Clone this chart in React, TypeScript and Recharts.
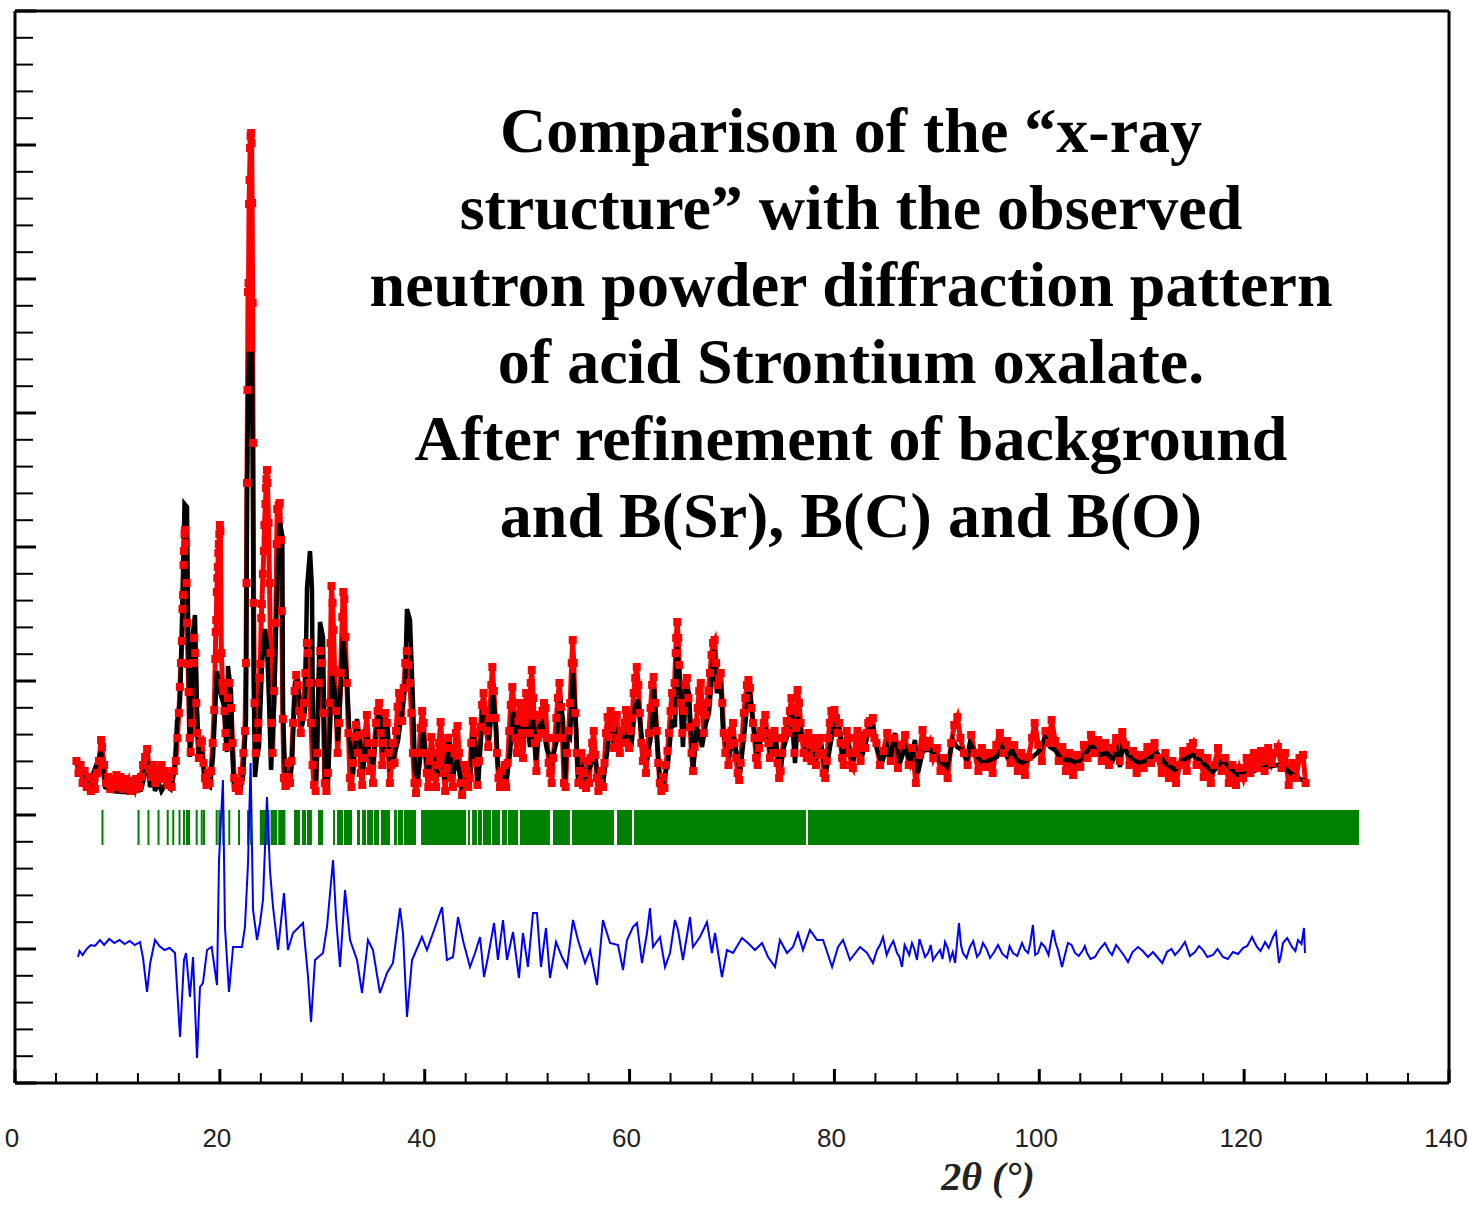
import { ComposedChart, Line, XAxis, YAxis, ReferenceArea, ReferenceLine } from 'recharts'

// intensities are in plot units (0..1072), 2theta in degrees
const xTicks = [0, 4, 8, 12, 16, 20, 24, 28, 32, 36, 40, 44, 48, 52, 56, 60, 64, 68, 72, 76, 80, 84, 88, 92, 96, 100, 104, 108, 112, 116, 120, 124, 128, 132, 136, 140]
const yTicks = [0, 26.8, 53.6, 80.4, 107.2, 134, 160.8, 187.6, 214.4, 241.2, 268, 294.8, 321.6, 348.4, 375.2, 402, 428.8, 455.6, 482.4, 509.2, 536, 562.8, 589.6, 616.4, 643.2, 670, 696.8, 723.6, 750.4, 777.2, 804, 830.8, 857.6, 884.4, 911.2, 938, 964.8, 991.6, 1018.4, 1045.2, 1072]

const titleLines = [
  'Comparison of the \u201cx-ray',
  'structure\u201d with the observed',
  'neutron powder diffraction pattern',
  'of acid Strontium oxalate.',
  'After refinement of background',
  'and B(Sr), B(C) and B(O)',
]

// observed (red squares)
const observed: [number, number][] = [
  [6.0, 322], [6.2, 310], [6.4, 318], [6.6, 300], [6.8, 312], [7.0, 296], [7.2, 306], [7.4, 292], [7.6, 304], [7.8, 294],
  [8.0, 310], [8.2, 322], [8.4, 343], [8.5, 336], [8.7, 318], [8.9, 300], [9.1, 306], [9.3, 294], [9.5, 304], [9.7, 296],
  [9.9, 308], [10.1, 298], [10.3, 306], [10.5, 294], [10.7, 304], [10.9, 296], [11.1, 302], [11.3, 292], [11.5, 300], [11.7, 294],
  [11.9, 304], [12.1, 296], [12.3, 306], [12.5, 318], [12.7, 326], [12.9, 334], [13.1, 314], [13.3, 306], [13.5, 318], [13.7, 300],
  [13.9, 314], [14.1, 304], [14.3, 318], [14.5, 306], [14.7, 312], [14.9, 298], [15.1, 306], [15.3, 296], [15.5, 312],
  [15.7, 322], [15.85, 345], [16.0, 370], [16.1, 396], [16.2, 420], [16.3, 442], [16.35, 474], [16.4, 488], [16.45, 518], [16.5, 532],
  [16.55, 549], [16.6, 553], [16.7, 540], [16.75, 500], [16.8, 460], [16.9, 419], [16.95, 391], [17.05, 345], [17.15, 331], [17.3, 360],
  [17.4, 420], [17.5, 445], [17.6, 430], [17.7, 380], [17.8, 350], [17.95, 325], [18.1, 340], [18.25, 342], [18.4, 320], [18.55, 305],
  [18.7, 298], [18.85, 310], [19.0, 300], [19.15, 312], [19.3, 340], [19.45, 373], [19.55, 424], [19.6, 451], [19.65, 463], [19.7, 491],
  [19.75, 505], [19.8, 516], [19.85, 530], [19.9, 539], [19.95, 549], [20.0, 558], [20.05, 552], [20.15, 430], [20.25, 400], [20.35, 392],
  [20.45, 372], [20.55, 350], [20.65, 336], [20.8, 385], [20.95, 400], [21.1, 375], [21.25, 340], [21.4, 305], [21.55, 295], [21.7, 300],
  [21.85, 292], [22.0, 302], [22.15, 312], [22.3, 330], [22.45, 352], [22.55, 420], [22.6, 500], [22.65, 600], [22.7, 693], [22.75, 791],
  [22.8, 800], [22.85, 879], [22.9, 903], [22.95, 935], [23.0, 947], [23.05, 950], [23.1, 940], [23.15, 880], [23.2, 780], [23.25, 640],
  [23.3, 480], [23.38, 380], [23.5, 330], [23.6, 345], [23.75, 360], [23.85, 405], [23.95, 419], [24.05, 465], [24.1, 479], [24.2, 509],
  [24.3, 532], [24.35, 558], [24.45, 579], [24.5, 595], [24.55, 604], [24.6, 613], [24.65, 600], [24.75, 560], [24.85, 500], [24.95, 430],
  [25.05, 360], [25.15, 330], [25.3, 392], [25.45, 460], [25.55, 539], [25.6, 574], [25.75, 578], [25.85, 580], [25.95, 543], [26.05, 472],
  [26.15, 364], [26.25, 305], [26.4, 297], [26.55, 306], [26.7, 320],
  [26.85, 300], [27.0, 322], [27.15, 360], [27.3, 392], [27.45, 408], [27.6, 398], [27.75, 372], [27.9, 350], [28.05, 366], [28.2, 380],
  [28.35, 410], [28.5, 440], [28.6, 430], [28.75, 400], [28.9, 360], [29.05, 318], [29.2, 298], [29.35, 292], [29.5, 330], [29.65, 400],
  [29.8, 432], [29.95, 420], [30.1, 370], [30.25, 300], [30.4, 292], [30.55, 310], [30.7, 380], [30.8, 440], [30.9, 497], [31.0, 480],
  [31.1, 453], [31.2, 413], [31.35, 372], [31.5, 330], [31.65, 360], [31.8, 410], [31.95, 466], [32.05, 491], [32.15, 484], [32.25, 446],
  [32.4, 400], [32.55, 350], [32.7, 305], [32.85, 296], [33.0, 320], [33.15, 346], [33.3, 358], [33.45, 330], [33.6, 348], [33.75, 310],
  [33.9, 298], [34.05, 325], [34.2, 350], [34.35, 368], [34.5, 340], [34.65, 312], [34.8, 330], [34.95, 300], [35.1, 340], [35.25, 360],
  [35.4, 372], [35.55, 380], [35.7, 350], [35.85, 318], [36.0, 340], [36.15, 370], [36.3, 360], [36.45, 330], [36.6, 300], [36.75, 318],
  [36.9, 340], [37.05, 320], [37.2, 352], [37.35, 376], [37.5, 390], [37.65, 385], [37.8, 362], [37.95, 395], [38.1, 420], [38.25, 432],
  [38.4, 418], [38.55, 400], [38.7, 370], [38.85, 330], [39.0, 300], [39.15, 290], [39.3, 300], [39.45, 330], [39.6, 355], [39.75, 372],
  [39.9, 360], [40.05, 330], [40.2, 310], [40.35, 296], [40.5, 322], [40.65, 346], [40.8, 330], [40.95, 306], [41.1, 296], [41.25, 318],
  [41.4, 340], [41.55, 361], [41.7, 340], [41.85, 310], [42.0, 292], [42.15, 315], [42.3, 345], [42.45, 335], [42.6, 305], [42.75, 296],
  [42.9, 330], [43.05, 350], [43.2, 357], [43.35, 330], [43.5, 300], [43.65, 288], [43.8, 300], [43.95, 318], [44.1, 312], [44.25, 296],
  [44.4, 305], [44.55, 340], [44.7, 362], [44.85, 350], [45.0, 320],
  [45.15, 298], [45.3, 322], [45.45, 356], [45.6, 378], [45.75, 390], [45.9, 372], [46.05, 352], [46.2, 336], [46.35, 365], [46.5, 398],
  [46.6, 416], [46.75, 392], [46.9, 365], [47.05, 330], [47.2, 305], [47.35, 296], [47.5, 312], [47.65, 300], [47.8, 318], [47.95, 296],
  [48.1, 320], [48.25, 352], [48.4, 378], [48.55, 396], [48.7, 380], [48.85, 345], [49.0, 330], [49.15, 362], [49.3, 380], [49.45, 350],
  [49.6, 325], [49.75, 360], [49.9, 390], [50.05, 372], [50.2, 350], [50.35, 400], [50.45, 413], [50.6, 385], [50.75, 340], [50.9, 312],
  [51.05, 345], [51.2, 368], [51.35, 350], [51.5, 372], [51.65, 380], [51.8, 375], [51.95, 345], [52.1, 320], [52.25, 310], [52.4, 300],
  [52.55, 325], [52.7, 345], [52.85, 365], [53.0, 385], [53.15, 400], [53.3, 376], [53.45, 345], [53.6, 300], [53.75, 296], [53.9, 330],
  [54.05, 352], [54.2, 380], [54.35, 420], [54.45, 443], [54.55, 420], [54.7, 370], [54.85, 330], [55.0, 300], [55.15, 312], [55.3, 330],
  [55.45, 298], [55.6, 310], [55.75, 295], [55.9, 322], [56.05, 300], [56.2, 325], [56.35, 340], [56.5, 352], [56.65, 328], [56.8, 305],
  [56.95, 292], [57.1, 300], [57.25, 312], [57.4, 296], [57.55, 320], [57.7, 350], [57.85, 366], [58.0, 346], [58.15, 372], [58.3, 355],
  [58.45, 335], [58.6, 360], [58.75, 368], [58.9, 345], [59.05, 330], [59.2, 352], [59.35, 340], [59.5, 360], [59.65, 373], [59.8, 358],
  [59.95, 335], [60.1, 352], [60.25, 365], [60.4, 390], [60.55, 405], [60.7, 416], [60.85, 398], [61.0, 370], [61.15, 340], [61.3, 322],
  [61.45, 335], [61.6, 310], [61.75, 330], [61.9, 350], [62.05, 375], [62.2, 398], [62.35, 406], [62.5, 380], [62.65, 352], [62.8, 320],
  [62.95, 300], [63.1, 292], [63.25, 306], [63.4, 295], [63.55, 318], [63.7, 332], [63.85, 350], [64.0, 372], [64.15, 390], [64.3, 372],
  [64.4, 400], [64.5, 430], [64.55, 445], [64.65, 461], [64.75, 445], [64.85, 418], [65.0, 380],
  [65.15, 350], [65.3, 372], [65.45, 398], [65.6, 405], [65.75, 385], [65.9, 356], [66.05, 330], [66.2, 312], [66.35, 336], [66.5, 360],
  [66.65, 375], [66.8, 392], [66.95, 400], [67.1, 372], [67.25, 350], [67.4, 368], [67.55, 380], [67.7, 392], [67.85, 410], [68.0, 428],
  [68.15, 440], [68.3, 443], [68.45, 420], [68.6, 398], [68.75, 405], [68.9, 410], [69.05, 380], [69.2, 350], [69.35, 330], [69.5, 345],
  [69.65, 318], [69.8, 338], [69.95, 352], [70.1, 360], [70.25, 340], [70.4, 325], [70.55, 310], [70.7, 303], [70.85, 320], [71.0, 345],
  [71.15, 370], [71.3, 385], [71.45, 398], [71.6, 403], [71.75, 395], [71.9, 375], [72.05, 360], [72.2, 345], [72.35, 325], [72.5, 318],
  [72.65, 335], [72.8, 352], [72.95, 345], [73.1, 360], [73.25, 368], [73.4, 350], [73.55, 340], [73.7, 325], [73.85, 345], [74.0, 330],
  [74.15, 352], [74.3, 345], [74.45, 320], [74.6, 305], [74.75, 312], [74.9, 330], [75.05, 345], [75.2, 352], [75.35, 362], [75.5, 350],
  [75.65, 372], [75.8, 385], [75.95, 360], [76.1, 330], [76.25, 355], [76.4, 393], [76.55, 380], [76.7, 360], [76.85, 345], [77.0, 330],
  [77.15, 340], [77.3, 325], [77.45, 350], [77.6, 338], [77.75, 322], [77.9, 345], [78.05, 335], [78.2, 318], [78.35, 340], [78.5, 328],
  [78.65, 345], [78.8, 330], [78.95, 310], [79.1, 305], [79.25, 322], [79.4, 345], [79.55, 360], [79.7, 372], [79.85, 366], [80.0, 373],
  [80.15, 365], [80.3, 350], [80.45, 360], [80.6, 340], [80.75, 325], [80.9, 318], [81.05, 338], [81.2, 352], [81.35, 345], [81.5, 330],
  [81.65, 318], [81.8, 315], [81.95, 330], [82.1, 345], [82.25, 352], [82.4, 335], [82.55, 322], [82.7, 340], [82.85, 348], [83.0, 335],
  [83.15, 350], [83.3, 360], [83.45, 362], [83.6, 350], [83.75, 365], [83.9, 345],
  [84.1, 340], [84.45, 318], [84.8, 332], [85.15, 350], [85.5, 322], [85.85, 345], [86.2, 315], [86.55, 338], [86.9, 348], [87.25, 318],
  [87.6, 335], [87.95, 300], [88.3, 328], [88.6, 353], [88.95, 336], [89.3, 342], [89.65, 325], [90.0, 335], [90.35, 312], [90.7, 325],
  [91.05, 305], [91.4, 340], [91.7, 358], [92.0, 366], [92.3, 345], [92.65, 330], [93.0, 318], [93.35, 348], [93.7, 330], [94.05, 312],
  [94.4, 335], [94.75, 316], [95.1, 330], [95.45, 310], [95.8, 338], [96.15, 350], [96.5, 330], [96.85, 342], [97.2, 320], [97.55, 338],
  [97.9, 312], [98.25, 330], [98.6, 308], [98.95, 326], [99.3, 345], [99.55, 360], [99.9, 338], [100.25, 322], [100.6, 352], [100.95, 340],
  [101.2, 363], [101.55, 342], [101.9, 322], [102.25, 336], [102.6, 312], [102.95, 330], [103.3, 308], [103.65, 328], [104.0, 316], [104.35, 338],
  [104.7, 325], [105.05, 348], [105.4, 330], [105.75, 343], [106.1, 322], [106.45, 340], [106.8, 318], [107.15, 335], [107.5, 345], [107.85, 322],
  [108.1, 351], [108.45, 338], [108.8, 318], [109.15, 332], [109.5, 310], [109.85, 328], [110.2, 315], [110.55, 336], [110.9, 320], [111.25, 340],
  [111.6, 325], [111.95, 310], [112.3, 330], [112.65, 305], [113.0, 322], [113.35, 300], [113.7, 318], [114.05, 332], [114.4, 312], [114.75, 336],
  [115.0, 340], [115.35, 318], [115.7, 330], [116.05, 306], [116.4, 325], [116.75, 300], [117.1, 318], [117.45, 335], [117.8, 312], [118.15, 325],
  [118.5, 300], [118.85, 318], [119.2, 298], [119.55, 315], [119.9, 305], [120.25, 325], [120.6, 310], [120.95, 330], [121.3, 315], [121.65, 332],
  [122.0, 312], [122.35, 335], [122.7, 320], [123.05, 330], [123.3, 336], [123.65, 315], [124.0, 330], [124.35, 298], [124.7, 320], [125.05, 305],
  [125.4, 325], [125.75, 328], [126.0, 300],
]

// calculated profile (black line)
const calculated: [number, number][] = [
  [5.96, 321], [7.32, 301], [8.4, 331], [8.79, 296], [9.5, 292], [10.5, 291], [11.5, 291], [12.3, 293], [12.6, 305], [12.89, 331],
  [13.18, 296], [13.5, 306], [13.67, 292], [14.0, 301], [14.3, 292], [14.7, 299], [15.2, 294], [15.6, 315], [15.82, 361], [16.11, 382],
  [16.3, 454], [16.55, 579], [16.79, 576], [16.9, 456], [17.08, 326], [17.38, 451], [17.57, 468], [17.77, 373], [17.96, 322], [18.26, 331],
  [18.55, 299], [19.04, 296], [19.33, 326], [19.72, 412], [19.92, 396], [20.21, 384], [20.4, 377], [20.7, 331], [20.79, 417], [21.09, 391],
  [21.19, 336], [21.38, 296], [21.97, 292], [22.26, 306], [22.55, 363], [22.65, 600], [22.84, 729], [23.14, 729], [23.24, 567], [23.3, 405],
  [23.43, 306], [23.63, 326], [23.82, 336], [24.11, 419], [24.41, 454], [24.6, 438], [24.8, 382], [25.0, 313], [25.3, 380], [25.6, 500],
  [25.87, 560], [26.1, 547], [26.16, 372], [26.36, 312], [26.65, 295], [27.04, 319], [27.34, 400], [27.63, 402], [28.02, 357], [28.31, 372],
  [28.51, 495], [28.8, 532], [28.99, 495], [29.1, 342], [29.39, 301], [29.59, 383], [29.78, 461], [30.07, 446], [30.26, 304], [30.56, 301],
  [30.95, 407], [31.24, 390], [31.53, 342], [31.92, 420], [32.02, 446], [32.41, 402], [32.71, 338], [33.0, 308], [33.39, 364], [33.68, 342],
  [33.97, 312], [34.37, 349], [34.66, 327], [34.95, 319], [35.34, 357], [35.63, 379], [35.93, 331], [36.32, 364], [36.61, 319], [37.0, 327],
  [37.39, 342], [37.78, 372], [38.07, 394], [38.27, 474], [38.56, 463], [38.86, 379], [39.05, 312], [39.34, 304], [39.83, 351], [40.03, 334],
  [40.32, 308], [40.71, 334], [41.0, 319], [41.3, 308], [41.69, 312], [41.98, 304], [42.37, 349], [42.66, 304], [43.15, 323], [43.64, 297],
  [44.13, 304], [44.42, 303], [44.71, 350], [44.91, 340], [45.2, 296], [45.69, 376], [46.08, 373], [46.28, 343], [46.67, 388], [46.96, 356],
  [47.15, 316], [47.54, 306], [48.03, 306], [48.33, 330], [48.62, 371], [49.01, 343], [49.3, 363], [49.59, 346], [49.98, 363], [50.28, 336],
  [50.57, 363], [50.86, 323], [51.16, 356], [51.45, 360], [51.94, 333], [52.43, 323], [52.91, 343], [53.21, 386], [53.5, 363], [53.7, 303],
  [53.89, 350], [54.18, 346], [54.48, 410], [54.77, 356], [54.96, 310], [55.36, 316], [55.65, 306], [56.14, 316], [56.62, 330], [56.92, 303],
  [57.4, 300], [57.8, 330], [58.09, 356], [58.38, 346], [58.77, 356], [59.26, 343], [59.55, 346], [59.85, 350], [60.24, 343], [60.53, 376],
  [60.82, 383], [61.21, 343], [61.7, 323], [62.19, 353], [62.38, 396], [62.68, 343], [62.97, 303], [63.26, 300], [63.75, 320], [64.14, 363],
  [64.43, 356], [64.63, 436], [64.92, 403], [65.21, 336], [65.51, 396], [65.8, 390], [66.19, 313], [66.58, 356], [67.07, 336], [67.46, 360],
  [67.75, 370], [68.24, 433], [68.53, 390], [68.92, 400], [69.12, 353], [69.51, 336], [69.8, 330], [70.19, 346], [70.78, 310], [71.27, 356],
  [71.66, 398], [72.05, 363], [72.44, 330], [72.83, 343], [73.32, 353], [73.71, 333], [74.29, 340], [74.68, 311], [75.07, 336], [75.47, 350],
  [75.86, 370], [76.15, 320], [76.44, 366], [76.83, 346], [77.32, 333], [77.81, 336], [78.3, 326], [78.79, 333], [79.18, 310], [79.57, 336],
  [80.05, 363], [80.54, 353], [80.84, 323], [81.32, 340], [81.81, 323], [82.3, 336], [82.79, 330], [83.47, 356], [83.76, 356], [84.16, 333],
  [84.64, 320], [85.13, 336], [85.42, 323], [85.91, 350], [86.4, 320], [86.89, 336], [87.38, 320], [87.86, 343], [88.16, 310], [88.65, 333],
  [89.33, 333], [90.01, 326], [90.5, 320], [90.99, 316], [91.58, 343], [91.97, 336], [92.45, 333], [92.94, 323], [93.23, 340], [93.92, 326],
  [94.5, 320], [95.19, 323], [95.87, 326], [96.36, 336], [96.85, 326], [97.34, 333], [97.82, 323], [98.31, 320], [98.8, 323], [99.38, 326],
  [100.07, 333], [100.56, 346], [101.05, 336], [101.53, 333], [102.22, 323], [103.0, 323], [103.68, 320], [104.27, 326], [104.95, 336], [105.24, 336],
  [105.93, 328], [106.61, 330], [107.2, 323], [107.59, 333], [107.88, 316], [108.17, 340], [108.56, 330], [109.15, 323], [109.83, 320], [110.51, 323],
  [111.49, 330], [112.27, 320], [113.25, 313], [114.03, 323], [115.01, 328], [115.98, 320], [116.96, 311], [117.93, 323], [118.62, 315], [119.4, 308],
  [120.28, 310], [121.25, 313], [122.23, 316], [123.21, 318], [123.79, 316], [124.77, 308], [125.65, 303], [125.94, 302],
]

// difference obs - calc (blue line)
const difference: [number, number][] = [
  [6.15, 126], [6.3, 132], [6.6, 128], [7.0, 134], [7.4, 138], [7.8, 137], [8.3, 143], [8.7, 138], [9.2, 144], [9.7, 140],
  [10.2, 143], [10.7, 139], [11.2, 142], [11.7, 138], [12.2, 141], [12.5, 125], [12.89, 91], [13.2, 120], [13.67, 143], [14.1, 137],
  [14.6, 133], [15.1, 135], [15.62, 130], [16.11, 46], [16.5, 123], [16.7, 130], [17.08, 86], [17.38, 126], [17.77, 25], [18.06, 96],
  [18.35, 100], [18.75, 133], [19.2, 136], [19.72, 98], [19.92, 223], [20.3, 303], [20.5, 156], [20.89, 91], [21.29, 136], [22.16, 136],
  [22.45, 156], [22.75, 220], [23.0, 320], [23.24, 173], [23.63, 143], [23.92, 160], [24.21, 183], [24.6, 286], [24.89, 213], [25.19, 176],
  [25.68, 133], [26.26, 190], [26.65, 133], [27.14, 150], [28.12, 160], [28.61, 106], [28.9, 61], [29.29, 123], [30.07, 130], [30.46, 156],
  [31.05, 223], [31.34, 166], [31.73, 116], [32.22, 193], [32.71, 143], [33.39, 123], [33.88, 90], [34.46, 143], [34.95, 133], [35.63, 90],
  [36.32, 110], [36.9, 120], [37.59, 175], [37.88, 150], [38.27, 66], [38.76, 123], [39.73, 146], [40.22, 133], [40.81, 150], [41.69, 176],
  [42.17, 123], [42.76, 126], [43.25, 166], [43.8, 140], [44.42, 116], [44.91, 130], [45.4, 146], [45.79, 106], [46.18, 126], [46.77, 160],
  [47.15, 123], [47.64, 163], [48.03, 123], [48.62, 151], [49.2, 105], [49.59, 150], [50.08, 116], [50.57, 170], [50.96, 170], [51.35, 116],
  [51.84, 155], [52.23, 105], [52.82, 141], [53.4, 126], [53.89, 116], [54.48, 163], [54.96, 143], [55.65, 120], [56.14, 133], [56.82, 98],
  [57.4, 163], [58.09, 140], [58.87, 138], [59.36, 113], [59.75, 143], [60.33, 156], [60.72, 160], [61.21, 120], [61.7, 150], [61.99, 175],
  [62.29, 136], [62.97, 146], [63.46, 116], [63.95, 130], [64.43, 163], [64.73, 153], [65.21, 123], [65.9, 166], [66.19, 136], [66.87, 146],
  [67.56, 161], [68.04, 130], [68.34, 150], [69.02, 106], [69.51, 133], [70.1, 130], [70.97, 145], [71.56, 140], [72.24, 133], [72.93, 140],
  [73.52, 126], [74.2, 116], [74.68, 143], [75.37, 130], [75.95, 136], [76.44, 150], [76.93, 133], [77.61, 153], [78.3, 143], [78.89, 143],
  [79.77, 116], [80.35, 136], [80.84, 143], [81.52, 123], [82.5, 136], [83.18, 130], [83.76, 120],
  [84.16, 133], [84.45, 138], [84.74, 146], [85.1, 128], [85.42, 136], [85.75, 142], [86.11, 130], [86.35, 126], [86.6, 116], [86.85, 138],
  [87.09, 133], [87.3, 128], [87.57, 140], [87.8, 134], [88.06, 123], [88.3, 144], [88.55, 136], [88.85, 126], [89.14, 130], [89.4, 138],
  [89.62, 123], [89.95, 128], [90.31, 133], [90.55, 124], [90.8, 141], [91.05, 135], [91.29, 123], [91.55, 131], [91.78, 120], [92.16, 160],
  [92.35, 138], [92.55, 130], [92.9, 125], [93.23, 136], [93.55, 142], [93.92, 126], [94.2, 130], [94.5, 140], [94.85, 134], [95.19, 125],
  [95.6, 131], [95.97, 138], [96.4, 129], [96.85, 125], [97.1, 137], [97.43, 130], [97.85, 127], [98.31, 140], [98.6, 133], [98.9, 130],
  [99.1, 139], [99.38, 158], [99.6, 128], [99.87, 130], [100.2, 140], [100.56, 136], [100.9, 128], [101.34, 153], [101.6, 140], [101.83, 133],
  [102.22, 116], [102.5, 128], [102.8, 140], [103.15, 138], [103.49, 130], [103.85, 127], [104.27, 133], [104.45, 137], [104.66, 130], [105.0, 124],
  [105.44, 126], [105.9, 134], [106.41, 140], [106.8, 132], [107.1, 128], [107.5, 138], [107.88, 133], [108.3, 127], [108.66, 121], [109.1, 131],
  [109.64, 136], [110.1, 132], [110.61, 126], [111.1, 131], [111.59, 125], [112.0, 120], [112.47, 131], [112.9, 134], [113.25, 128], [113.7, 133],
  [114.22, 141], [114.7, 127], [115.2, 131], [115.6, 137], [115.98, 133], [116.4, 126], [116.96, 128], [117.4, 134], [117.93, 126], [118.4, 124],
  [118.91, 131], [119.4, 129], [119.89, 135], [120.3, 137], [120.77, 146], [121.0, 141], [121.25, 136], [121.6, 132], [122.04, 141], [122.4, 135],
  [122.82, 146], [123.1, 151], [123.4, 120], [123.6, 128], [123.79, 140], [124.2, 145], [124.67, 136], [125.0, 132], [125.26, 143], [125.6, 139],
  [125.84, 155], [125.94, 130],
]

// reflection positions: isolated ticks and merged runs
const reflectionTicks = [8.54, 12.06, 13.03, 14.01, 14.91, 15.45, 16.06, 16.5, 16.79, 16.99, 17.74, 18.23, 18.45, 19.69, 19.95, 20.34, 20.92, 21.87, 22.75, 23.05]
const reflectionRuns: [number, number][] = [
  [23.9, 24.85], [24.95, 25.6], [25.7, 26.4], [27.24, 27.82], [28.02, 28.41], [28.51, 28.99], [29.58, 30.07], [31.05, 31.24], [31.44, 32.02], [32.12, 32.9],
  [33.39, 33.68], [33.88, 34.27], [34.37, 34.95], [35.05, 35.54], [35.73, 36.61], [37.0, 37.29], [37.39, 37.88], [37.98, 39.15], [39.64, 44.03], [44.23, 44.42],
  [44.62, 45.1], [45.2, 45.59], [45.69, 46.47], [46.57, 47.35], [47.54, 48.03], [48.13, 49.11], [49.3, 52.23], [52.52, 54.18], [54.38, 58.48], [58.77, 60.24],
  [60.43, 77.22], [77.42, 131.21],
]
const tickBand = [238, 273]

const obsData = observed.map(([x, y]) => ({ x, y }))
const calcData = calculated.map(([x, y]) => ({ x, y }))
const diffData = difference.map(([x, y]) => ({ x, y }))

const isMajorY = (v: number) => Math.abs(v / 134 - Math.round(v / 134)) < 0.01

function BottomTick({ x, y, payload }: any) {
  const major = payload.value % 20 === 0
  return (
    <g>
      <line x1={x} y1={y} x2={x} y2={y - (major ? 14 : 10)} stroke="#000" strokeWidth={major ? 3 : 2} />
      {major && (
        <text x={x - 3} y={y + 64} textAnchor="middle" fontSize={26} fill="#222"
          fontFamily="'Liberation Sans', Arial, sans-serif">{payload.value}</text>
      )}
    </g>
  )
}

function TopTick({ x, y, payload }: any) {
  const major = payload.value % 20 === 0
  return <line x1={x} y1={y} x2={x} y2={y + (major ? 15 : 11)} stroke="#000" strokeWidth={major ? 3 : 2} />
}

function LeftTick({ x, y, payload }: any) {
  const major = isMajorY(payload.value)
  return <line x1={x} y1={y} x2={x + (major ? 21 : 18)} y2={y} stroke="#000" strokeWidth={major ? 3 : 2} />
}

function RightTick({ x, y, payload }: any) {
  const major = isMajorY(payload.value)
  return <line x1={x} y1={y} x2={x - (major ? 19 : 15)} y2={y} stroke="#000" strokeWidth={major ? 3 : 2} />
}

const ObsSquare = ({ cx, cy }: any) => <rect x={cx - 4} y={cy - 4} width={8} height={8} fill="#ff0000" />

const frame = { stroke: '#000', strokeWidth: 3 }

export default function App() {
  return (
    <div style={{ position: 'absolute', left: 0, top: 0, width: 1468, height: 1207, background: '#fff' }}>
      <ComposedChart width={1468} height={1207} margin={{ top: 10, right: 18, bottom: 64, left: 14 }}>
        <XAxis xAxisId={0} dataKey="x" type="number" domain={[0, 140]} ticks={xTicks} allowDataOverflow
          height={60} tickSize={0} tickMargin={0} axisLine={frame} tickLine={false} tick={<BottomTick />} interval={0} />
        <XAxis xAxisId="top" orientation="top" dataKey="x" type="number" domain={[0, 140]} ticks={xTicks}
          height={1} tickSize={0} tickMargin={0} axisLine={frame} tickLine={false} tick={<TopTick />} interval={0} />
        <YAxis yAxisId={0} dataKey="y" type="number" domain={[0, 1072]} ticks={yTicks} allowDataOverflow
          width={1} tickSize={0} tickMargin={0} axisLine={frame} tickLine={false} tick={<LeftTick />} interval={0} />
        <YAxis yAxisId="right" orientation="right" dataKey="y" type="number" domain={[0, 1072]} ticks={yTicks}
          width={1} tickSize={0} tickMargin={0} axisLine={frame} tickLine={false} tick={<RightTick />} interval={0} />

        {reflectionRuns.map(([a, b], i) => (
          <ReferenceArea key={'run' + i} x1={a} x2={b} y1={tickBand[0]} y2={tickBand[1]} fill="#008000" fillOpacity={1} stroke="none" />
        ))}
        {reflectionTicks.map((p, i) => (
          <ReferenceLine key={'tick' + i} segment={[{ x: p, y: tickBand[0] }, { x: p, y: tickBand[1] }]} stroke="#008000" strokeWidth={2} />
        ))}

        <Line data={obsData} dataKey="y" type="linear" stroke="#ff0000" strokeWidth={5} dot={<ObsSquare />} isAnimationActive={false} />
        <Line data={calcData} dataKey="y" type="linear" stroke="#000" strokeWidth={4.5} dot={false} isAnimationActive={false} />
        <Line data={diffData} dataKey="y" type="linear" stroke="#0000ff" strokeWidth={2} dot={false} isAnimationActive={false} />
      </ComposedChart>

      <div style={{
        position: 'absolute', left: 351, top: 92, width: 1000, textAlign: 'center', color: '#000',
        fontFamily: "'Liberation Serif', 'Times New Roman', serif", fontWeight: 'bold', fontSize: 64, lineHeight: '77px',
      }}>
        {titleLines.map((l, i) => <div key={i}>{l}</div>)}
      </div>
      <div style={{
        position: 'absolute', left: 888, top: 1154, width: 200, textAlign: 'center', color: '#222',
        fontFamily: "'Liberation Serif', 'Times New Roman', serif", fontWeight: 'bold', fontStyle: 'italic', fontSize: 40,
        lineHeight: '46px',
      }}>
        2θ (°)
      </div>
    </div>
  )
}
